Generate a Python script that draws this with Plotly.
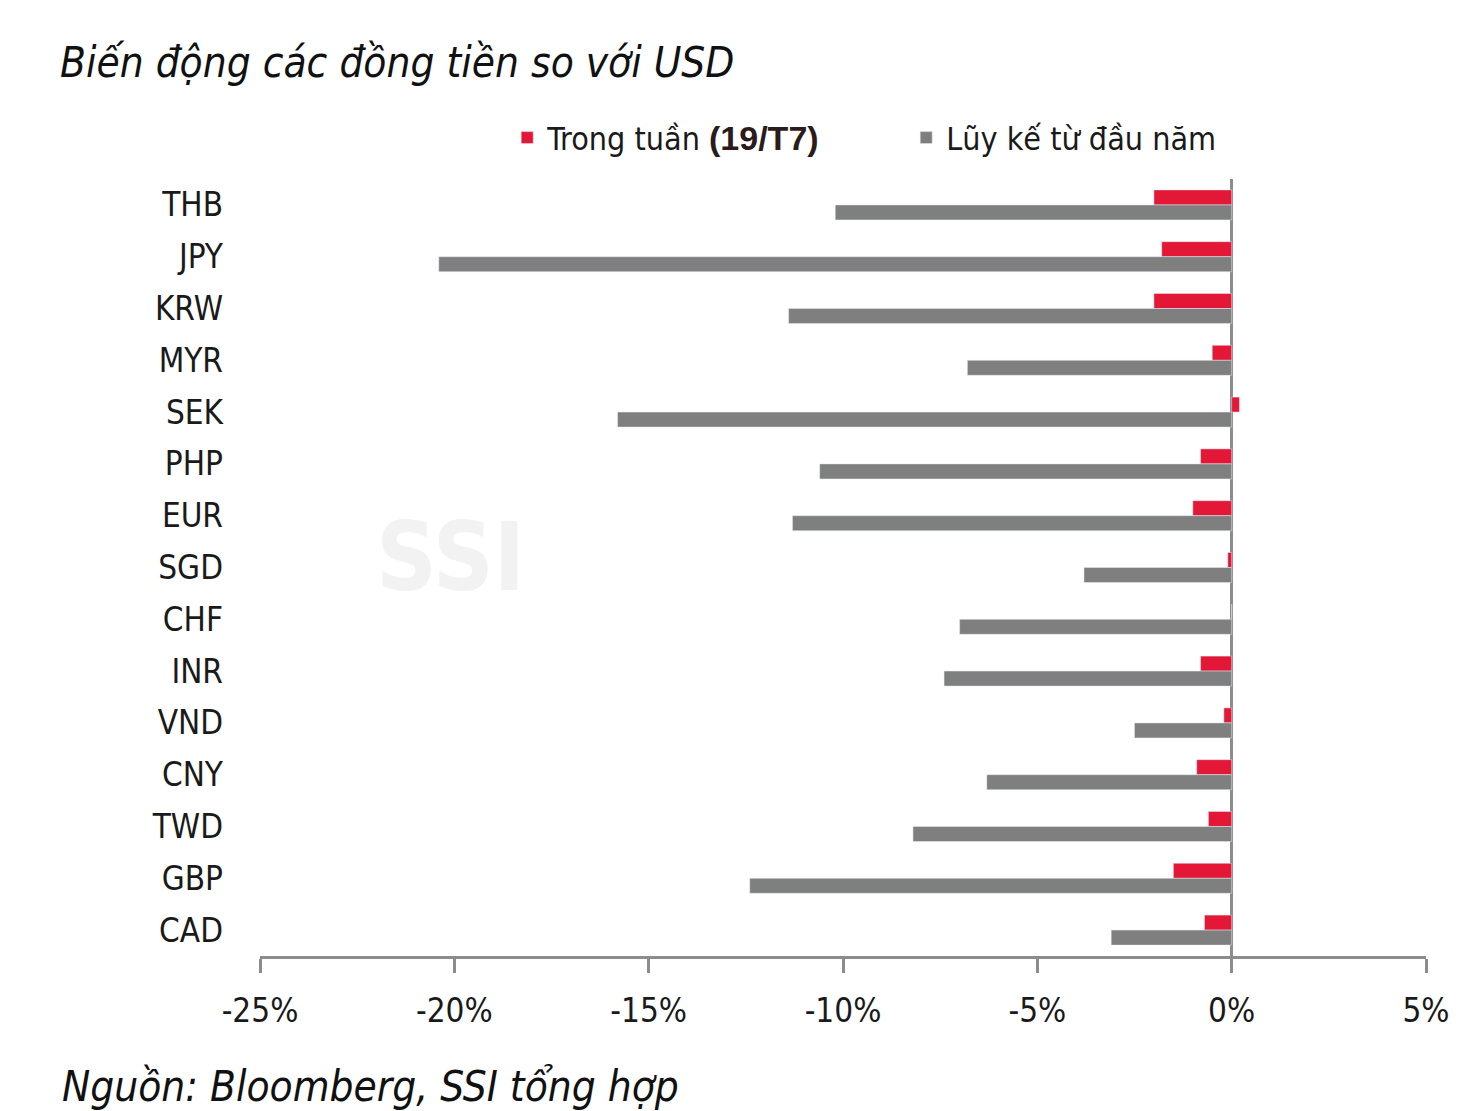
import plotly.graph_objects as go

currencies = ["THB", "JPY", "KRW", "MYR", "SEK", "PHP", "EUR", "SGD",
              "CHF", "INR", "VND", "CNY", "TWD", "GBP", "CAD"]
weekly = [-2.0, -1.8, -2.0, -0.5, 0.2, -0.8, -1.0, -0.1,
          0.0, -0.8, -0.2, -0.9, -0.6, -1.5, -0.7]
ytd = [-10.2, -20.4, -11.4, -6.8, -15.8, -10.6, -11.3, -3.8,
       -7.0, -7.4, -2.5, -6.3, -8.2, -12.4, -3.1]
x_ticks = [-25, -20, -15, -10, -5, 0, 5]
x_tick_labels = ["-25%", "-20%", "-15%", "-10%", "-5%", "0%", "5%"]

NARROW = "DejaVu Sans Condensed, DejaVu Sans, sans-serif"
RED = "#E31837"
GRAY = "#7F7F7F"
AXIS = "#8C8C8C"

fig = go.Figure()
fig.add_trace(go.Bar(
    y=currencies, x=weekly, orientation="h", marker_color=RED,
    name="Trong tuần <span style='font-family:Liberation Sans, Arial, sans-serif;"
         "font-weight:bold;font-size:34px;color:#2B1B1B'>(19/T7)</span>",
))
fig.add_trace(go.Bar(
    y=currencies, x=ytd, orientation="h", marker_color=GRAY,
    name="Lũy kế từ đầu năm",
))

fig.update_layout(
    width=1476, height=1111,
    paper_bgcolor="white", plot_bgcolor="white",
    font=dict(family=NARROW, size=33, color="#1A1A1A"),
    barmode="group", bargap=0.42, bargroupgap=0,
    margin=dict(l=260, r=50, t=179, b=155),
    title=dict(
        text="<i>Biến động các đồng tiền so với USD</i>",
        font=dict(family=NARROW, size=42, color="#111111"),
        xref="container", yref="container",
        x=60 / 1476, xanchor="left", y=1 - 62 / 1111, yanchor="middle",
    ),
    legend=dict(
        orientation="h", x=0.212, xanchor="left", y=1.053, yanchor="middle",
        font=dict(family=NARROW, size=32, color="#1A1A1A"),
        itemwidth=30, entrywidth=354, traceorder="normal",
        bgcolor="rgba(0,0,0,0)",
    ),
    showlegend=True,
)

fig.update_xaxes(
    range=[-25, 5], tickvals=x_ticks, ticktext=x_tick_labels,
    showgrid=False, zeroline=True, zerolinecolor=AXIS, zerolinewidth=3,
    showline=True, linecolor=AXIS, linewidth=3,
    ticks="outside", ticklen=14, tickwidth=3, tickcolor=AXIS,
    tickfont=dict(family=NARROW, size=33, color="#1A1A1A"),
    ticklabelstandoff=9,
)
fig.update_yaxes(
    autorange="reversed", showgrid=False, zeroline=False, showline=False,
    ticks="", tickfont=dict(family=NARROW, size=33, color="#1A1A1A"),
    ticklabelstandoff=36,
)

fig.add_annotation(
    text="<b>SSI</b>", xref="paper", yref="paper",
    x=(450 - 260) / 1166, xanchor="center", y=(956 - 557) / 777, yanchor="middle",
    showarrow=False, font=dict(family=NARROW, size=94, color="#F2F2F2"),
)
fig.add_annotation(
    text="<i>Nguồn: Bloomberg, SSI tổng hợp</i>", xref="paper", yref="paper",
    x=(60 - 260) / 1166, xanchor="left", y=(956 - 1086) / 777, yanchor="middle",
    showarrow=False, font=dict(family=NARROW, size=42, color="#111111"),
)

fig.write_html("out.html", config={"displayModeBar": False},
               post_script="document.body.style.margin='0px';")
